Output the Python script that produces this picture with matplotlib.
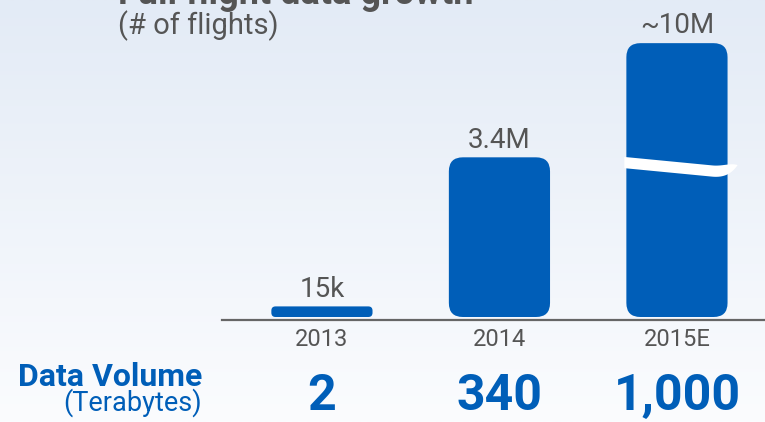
import numpy as np
import matplotlib.pyplot as plt
from matplotlib.colors import LinearSegmentedColormap
from matplotlib.patches import FancyBboxPatch, Polygon
from matplotlib.transforms import IdentityTransform, blended_transform_factory

years = ["2013", "2014", "2015E"]
flights = [15e3, 3.4e6, 10e6]
flight_labels = ["15k", "3.4M", "~10M"]
terabytes = [2, 340, 1000]

BLUE = "#005EB8"
GRAY = "#555555"
W, H = 765, 422

plt.rcParams['font.family'] = ['Roboto', 'DejaVu Sans']

fig = plt.figure(figsize=(W / 100, H / 100), dpi=100)

# soft vertical background gradient
bg = fig.add_axes([0, 0, 1, 1], zorder=-10)
grad = np.linspace(0, 1, 256)[:, None]
cmap = LinearSegmentedColormap.from_list('bg', ['#E3EBF6', '#FBFCFE'])
bg.imshow(grad, cmap=cmap, aspect='auto', extent=[0, 1, 0, 1])
bg.axis('off')

ax = fig.add_axes([222 / W, (H - 317) / H, 1 - 222 / W, 317 / H])
ax.set_facecolor('none')
ax.set_yscale('function', functions=(lambda v: np.sqrt(np.clip(v, 0, None)), np.square))
ax.set_ylim(0, 13.4e6)
ax.set_xlim(-0.563, 2.496)
for s in ['left', 'top', 'right']:
    ax.spines[s].set_visible(False)
ax.spines['bottom'].set_position(('outward', 2.2))
ax.spines['bottom'].set_color('#666666')
ax.spines['bottom'].set_linewidth(1.6)
ax.set_yticks([])

x = np.arange(len(years))
width = 0.57
ax.set_xticks(x, years)
ax.tick_params(axis='x', length=0, pad=5.5, labelsize=17, labelcolor=GRAY)

# rounded bars, built in pixel space so the corners stay circular
rects = []
for xi, v in zip(x, flights):
    (x0, y0), (x1, y1) = ax.transData.transform([(xi - width / 2, 0), (xi + width / 2, v)])
    r = min(14, (y1 - y0) / 2.5)
    patch = FancyBboxPatch((x0, y0), x1 - x0, y1 - y0,
                           boxstyle=f"round,pad=0,rounding_size={r}",
                           transform=IdentityTransform(), facecolor=BLUE,
                           edgecolor='none')
    fig.add_artist(patch)
    rects.append((x0, y0, x1, y1))

for xi, v, lab in zip(x, flights, flight_labels):
    ax.annotate(lab, (xi, v), xytext=(0, 7), textcoords='offset points',
                ha='center', va='baseline', fontsize=20, color=GRAY)

# axis-break ribbon across the tallest bar, tapering to a point on the right
x0, y0, x1, y1 = rects[-1]
bw, bh = x1 - x0, y1 - y0
u = np.linspace(-0.02, 1.1, 120)
s = np.clip((u - 0.85) / 0.25, 0, None)
centre = np.where(u <= 0.85, 0.436 + (u + 0.02) / 0.87 * 0.031,
                  0.467 + 0.0088 * s - 0.0307 * s ** 2)
half = 0.0205 * (1 - s ** 4)
xs = x0 + u * bw
top = y1 - (centre - half) * bh
bot = y1 - (centre + half) * bh
ribbon = Polygon(np.column_stack([np.r_[xs, xs[::-1]], np.r_[top, bot[::-1]]]),
                 closed=True, facecolor='white', edgecolor='none',
                 transform=IdentityTransform())
fig.add_artist(ribbon)

# data volume row
trans = blended_transform_factory(ax.transData, fig.transFigure)
for xi, tb in zip(x, terabytes):
    ax.text(xi, (H - 410) / H, f"{tb:,}", transform=trans, ha='center',
            va='baseline', fontsize=36, fontweight='bold', color=BLUE,
            clip_on=False)
fig.text(202 / W, (H - 386) / H, "Data Volume", ha='right', va='baseline',
         fontsize=23, fontweight='bold', color=BLUE)
fig.text(202 / W, (H - 411) / H, "(Terabytes)", ha='right', va='baseline',
         fontsize=19.5, color=BLUE)

fig.text(118 / W, (H - 4) / H, "Full flight data growth", ha='left',
         va='baseline', fontsize=26, fontweight='bold', color=GRAY)
fig.text(118 / W, (H - 34) / H, "(# of flights)", ha='left', va='baseline',
         fontsize=21, color=GRAY)

fig.savefig("out.png", dpi=100)
